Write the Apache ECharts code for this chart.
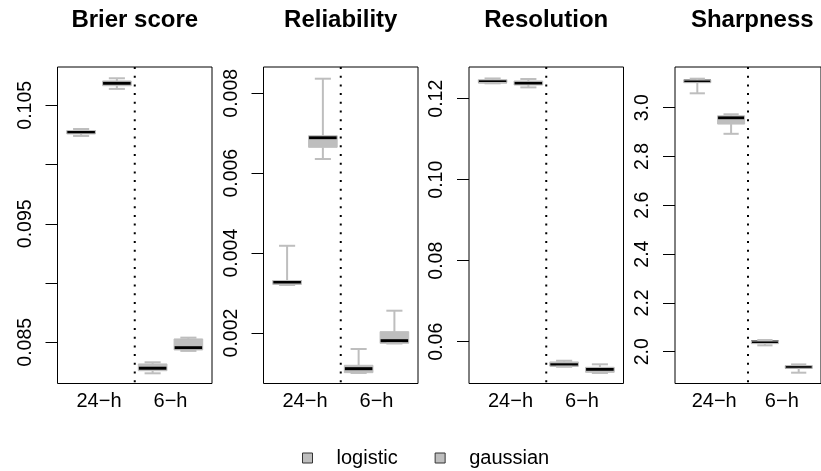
<!DOCTYPE html>
<html><head><meta charset="utf-8">
<script src="https://cdn.jsdelivr.net/npm/echarts@6/dist/echarts.min.js"></script>
<style>html,body{margin:0;padding:0;background:#fff}#c{width:821px;height:471px}</style>
</head><body><div id="c"></div>
<script>
const titles = ['Brier score', 'Reliability', 'Resolution', 'Sharpness'];
const groups = ['24\u2212h', '6\u2212h'];
const methods = ['logistic', 'gaussian'];
// each row: [lower whisker, Q1, median, Q3, upper whisker]; rows = 24-h, 6-h
const brierLogistic = [[0.10241, 0.10258, 0.10273, 0.10287, 0.10300], [0.08238, 0.08260, 0.08281, 0.08317, 0.08331]];
const brierGaussian = [[0.10638, 0.10665, 0.10686, 0.10705, 0.10728], [0.08427, 0.08435, 0.08454, 0.08528, 0.08539]];
const reliabilityLogistic = [[0.003202, 0.003214, 0.003277, 0.003314, 0.004183], [0.001000, 0.001007, 0.001107, 0.001192, 0.001600]];
const reliabilityGaussian = [[0.006355, 0.006648, 0.006889, 0.006939, 0.008365], [0.001737, 0.001742, 0.001807, 0.002033, 0.002558]];
const resolutionLogistic = [[0.1238, 0.1240, 0.1242, 0.1247, 0.1250], [0.0538, 0.0540, 0.0543, 0.0550, 0.0553]];
const resolutionGaussian = [[0.1228, 0.12338, 0.1238, 0.12437, 0.12487], [0.05227, 0.05244, 0.05319, 0.05368, 0.05442]];
const sharpnessLogistic = [[3.059, 3.1025, 3.1094, 3.1135, 3.1189], [2.026, 2.033, 2.041, 2.044, 2.048]];
const sharpnessGaussian = [[2.893, 2.933, 2.959, 2.967, 2.973], [1.914, 1.932, 1.937, 1.943, 1.948]];

const brierTicks = [0.085, 0.090, 0.095, 0.100, 0.105];
const brierLabels = [0.085, 0.095, 0.105];
const reliabilityTicks = [0.002, 0.004, 0.006, 0.008];
const resolutionTicks = [0.06, 0.08, 0.10, 0.12];
const sharpnessTicks = [2.0, 2.2, 2.4, 2.6, 2.8, 3.0];

const panels = [
  { title: titles[0], logistic: brierLogistic, gaussian: brierGaussian, range: [0.08152, 0.10823], ticks: brierTicks, labels: brierLabels, dec: 3 },
  { title: titles[1], logistic: reliabilityLogistic, gaussian: reliabilityGaussian, range: [0.000736, 0.008658], ticks: reliabilityTicks, labels: reliabilityTicks, dec: 3 },
  { title: titles[2], logistic: resolutionLogistic, gaussian: resolutionGaussian, range: [0.04968, 0.12783], ticks: resolutionTicks, labels: resolutionTicks, dec: 2 },
  { title: titles[3], logistic: sharpnessLogistic, gaussian: sharpnessGaussian, range: [1.8697, 3.1668], ticks: sharpnessTicks, labels: sharpnessTicks, dec: 1 }
];

const gridLefts = [57.5, 263.5, 469, 675];
const gridTop = 67, gridW = 154.5, gridH = 316.5;
const GRAY = '#bebebe';
const FONT = '"Liberation Sans", Arial, Helvetica, sans-serif';

function renderBox(params, api) {
  const x = api.value(0);
  const p = [1, 2, 3, 4, 5].map(i => api.coord([x, api.value(i)]));
  const bw = api.size([0.8, 0])[0];
  const cw = api.size([0.45, 0])[0];
  const cx = p[0][0];
  const boxShape = { x: cx - bw / 2, y: p[3][1], width: bw, height: Math.max(p[1][1] - p[3][1], 1) };
  return {
    type: 'group',
    children: [
      { type: 'rect', shape: boxShape, style: { fill: GRAY, stroke: null } },
      { type: 'line', shape: { x1: cx - bw / 2, y1: p[2][1], x2: cx + bw / 2, y2: p[2][1] }, style: { stroke: '#000', lineWidth: 3 } },
      { type: 'line', shape: { x1: cx, y1: p[0][1], x2: cx, y2: p[1][1] }, style: { stroke: GRAY, lineWidth: 2 } },
      { type: 'line', shape: { x1: cx, y1: p[3][1], x2: cx, y2: p[4][1] }, style: { stroke: GRAY, lineWidth: 2 } },
      { type: 'line', shape: { x1: cx - cw / 2, y1: p[0][1], x2: cx + cw / 2, y2: p[0][1] }, style: { stroke: GRAY, lineWidth: 2 } },
      { type: 'line', shape: { x1: cx - cw / 2, y1: p[4][1], x2: cx + cw / 2, y2: p[4][1] }, style: { stroke: GRAY, lineWidth: 2 } },
      { type: 'rect', shape: boxShape, style: { fill: null, stroke: GRAY, lineWidth: 1 } }
    ]
  };
}

function renderDivider(params, api) {
  const cs = params.coordSys;
  const x = api.coord([api.value(0), 0])[0];
  return {
    type: 'line',
    shape: { x1: x, y1: cs.y, x2: x, y2: cs.y + cs.height },
    style: { stroke: '#000', lineWidth: 2, lineDash: [2, 6.7] }
  };
}

const grid = [], xAxis = [], yAxis = [], series = [], title = [];
panels.forEach((pn, i) => {
  grid.push({ left: gridLefts[i], top: gridTop, width: gridW, height: gridH, show: true, borderColor: '#000', borderWidth: 1, backgroundColor: 'transparent' });
  title.push({ text: pn.title, left: gridLefts[i] + gridW / 2, top: 8, textAlign: 'center', padding: 0,
    textStyle: { fontFamily: FONT, fontWeight: 'bold', fontSize: 24, color: '#000' } });
  xAxis.push({
    type: 'value', gridIndex: i, min: 0.34, max: 4.66,
    axisLine: { show: false }, axisTick: { show: false }, splitLine: { show: false },
    axisLabel: { customValues: [1.5, 3.5], formatter: v => (v < 2.5 ? groups[0] : groups[1]), margin: 8,
      fontFamily: FONT, fontSize: 20, color: '#000' }
  });
  yAxis.push({
    type: 'value', gridIndex: i, min: pn.range[0], max: pn.range[1],
    axisLine: { show: false }, splitLine: { show: false },
    axisTick: { show: true, length: 12, customValues: pn.ticks, lineStyle: { color: '#000', width: 1 } },
    axisLabel: { customValues: pn.labels, rotate: 90, margin: 22, formatter: v => Number(v).toFixed(pn.dec),
      fontFamily: FONT, fontSize: 19.5, color: '#000' }
  });
  methods.forEach((m, k) => {
    const vals = pn[m];
    series.push({
      type: 'custom', name: m, xAxisIndex: i, yAxisIndex: i,
      itemStyle: { color: GRAY },
      renderItem: renderBox,
      encode: { x: 0, y: [1, 2, 3, 4, 5] },
      data: vals.map((v, g) => [g * 2 + k + 1].concat(v))
    });
  });
  series.push({
    type: 'custom', name: 'divider', xAxisIndex: i, yAxisIndex: i, silent: true,
    renderItem: renderDivider, encode: { x: 0 }, data: [[2.5]]
  });
});

const chart = echarts.init(document.getElementById('c'), null, { renderer: 'canvas' });
chart.setOption({
  backgroundColor: '#fff',
  animation: false,
  title, grid, xAxis, yAxis, series,
  legend: {
    data: methods.map(m => ({ name: m, icon: 'rect', itemStyle: { color: GRAY, borderColor: '#333', borderWidth: 1 } })),
    left: 302, top: 448, padding: 0, itemWidth: 10, itemHeight: 10, itemGap: 37, selectedMode: false,
    textStyle: { fontFamily: FONT, fontSize: 20, color: '#000', padding: [0, 0, 0, 19] }
  }
});
</script></body></html>
